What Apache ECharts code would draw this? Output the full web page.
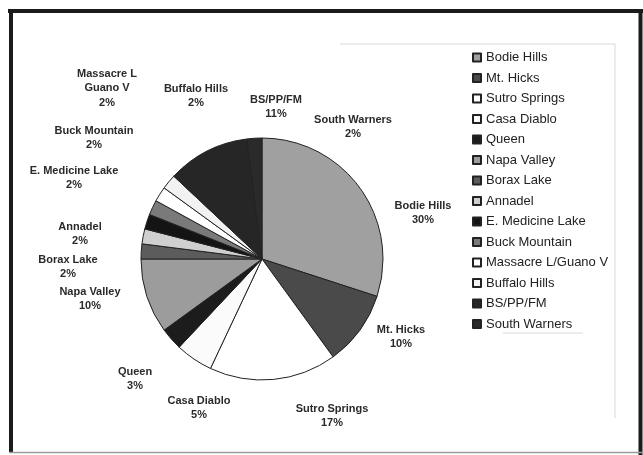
<!DOCTYPE html>
<html>
<head>
<meta charset="utf-8">
<script src="https://cdn.jsdelivr.net/npm/echarts@6/dist/echarts.min.js"></script>
<style>
  html, body { margin: 0; padding: 0; background: #fff; }
  #chart { width: 643px; height: 455px; }
</style>
</head>
<body>
<div id="chart"></div>
<script>
// Obsidian source groups and their share of the assemblage (percent)
const sources = [
  'Bodie Hills', 'Mt. Hicks', 'Sutro Springs', 'Casa Diablo', 'Queen',
  'Napa Valley', 'Borax Lake', 'Annadel', 'E. Medicine Lake', 'Buck Mountain',
  'Massacre L/Guano V', 'Buffalo Hills', 'BS/PP/FM', 'South Warners'
];
const shares = [30, 10, 17, 5, 3, 10, 2, 2, 2, 2, 2, 2, 11, 2];

// Greyscale fill for each slice
const fills = [
  '#a0a0a0', '#4a4a4a', '#ffffff', '#fbfbfb', '#1c1c1c',
  '#9c9c9c', '#5c5c5c', '#cfcfcf', '#141414', '#7a7a7a',
  '#ffffff', '#f2f2f2', '#262626', '#2a2a2a'
];

// Label centres, offset from the pie centre (px)
const labelOffsets = [
  [161, -46], [139, 78], [70, 157], [-63, 149], [-127, 120],
  [-172, 40], [-194, 8], [-182, -25], [-188, -81], [-168, -121],
  [-155, -171], [-66, -163], [14, -152], [91, -132]
];

const cx = 262, cy = 259;

const chart = echarts.init(document.getElementById('chart'), null, { renderer: 'canvas' });

const lineColor = '#d9d9d9';
chart.setOption({
  animation: false,
  backgroundColor: '#ffffff',
  textStyle: { fontFamily: 'Liberation Sans, Arial, sans-serif' },
  legend: {
    orient: 'vertical',
    left: 467,
    top: 46,
    itemWidth: 8,
    itemHeight: 8,
    itemGap: 7.5,
    itemTextGap: 5,
    icon: 'rect',
    selectedMode: false,
    textStyle: { fontSize: 13, color: '#222', fontFamily: 'Liberation Sans, Arial, sans-serif' },
    data: sources
  },
  graphic: [
    // faint box around the legend
    { type: 'line', silent: true, shape: { x1: 340, y1: 44, x2: 615, y2: 44 }, style: { stroke: lineColor, lineWidth: 1 } },
    { type: 'line', silent: true, shape: { x1: 615, y1: 44, x2: 615, y2: 418 }, style: { stroke: lineColor, lineWidth: 1 } },
    { type: 'line', silent: true, shape: { x1: 503, y1: 333, x2: 583, y2: 333 }, style: { stroke: lineColor, lineWidth: 1 } },
    // outer frame
    { type: 'line', silent: true, shape: { x1: 8, y1: 11, x2: 643, y2: 11 }, style: { stroke: '#1b1b1b', lineWidth: 4 } },
    { type: 'line', silent: true, shape: { x1: 11, y1: 9, x2: 11, y2: 453 }, style: { stroke: '#1b1b1b', lineWidth: 4 } },
    { type: 'line', silent: true, shape: { x1: 640.5, y1: 9, x2: 640.5, y2: 455 }, style: { stroke: '#1b1b1b', lineWidth: 4 } },
    { type: 'line', silent: true, shape: { x1: 9, y1: 452.5, x2: 643, y2: 452.5 }, style: { stroke: '#9a9a9a', lineWidth: 1.5 } }
  ],
  series: [{
    type: 'pie',
    center: [cx, cy],
    radius: 121,
    startAngle: 90,
    clockwise: true,
    avoidLabelOverlap: false,
    percentPrecision: 0,
    emphasis: { disabled: true },
    itemStyle: { borderColor: '#222', borderWidth: 1 },
    label: {
      show: true,
      position: 'outside',
      fontSize: 11,
      fontWeight: 'bold',
      color: '#2a2a2a',
      lineHeight: 14.5,
      align: 'center',
      fontFamily: 'Liberation Sans, Arial, sans-serif',
      formatter: function (p) {
        const name = p.name.length > 14 ? p.name.replace('/', '\n') : p.name;
        return name + '\n' + p.percent + '%';
      }
    },
    labelLine: { show: false },
    labelLayout: function (params) {
      const off = labelOffsets[params.dataIndex];
      return {
        x: cx + off[0],
        y: cy + off[1],
        align: 'center',
        verticalAlign: 'middle',
        hideOverlap: false
      };
    },
    data: sources.map(function (name, i) {
      return { name: name, value: shares[i], itemStyle: { color: fills[i] } };
    })
  }]
});
</script>
</body>
</html>
